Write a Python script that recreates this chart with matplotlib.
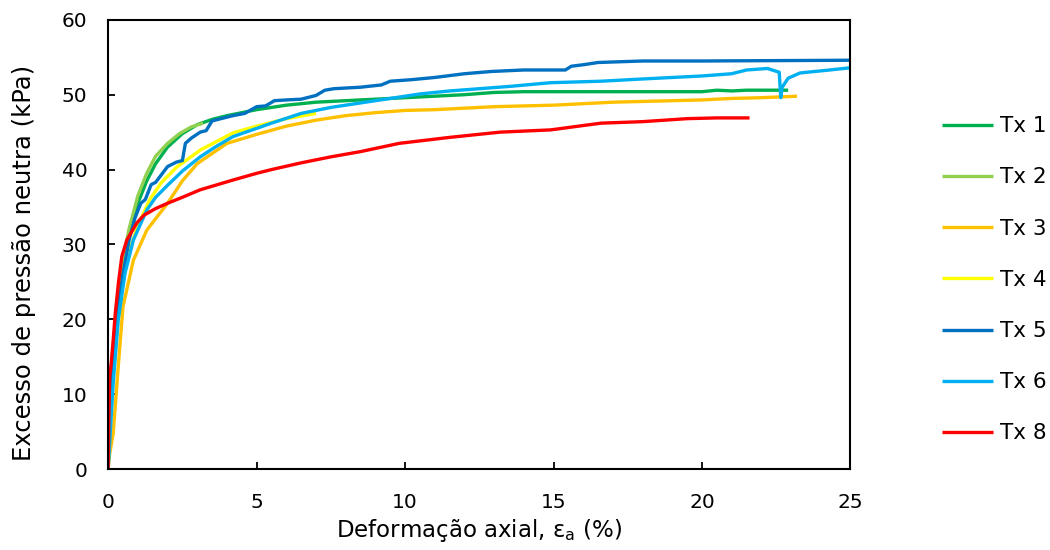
import matplotlib
matplotlib.use("Agg")
import matplotlib.pyplot as plt

# Data (strain %, excess pore pressure kPa)
tx1_x = [0, 0.05, 0.15, 0.3, 0.5, 0.7, 1.0, 1.3, 1.6, 2.0, 2.5, 3.0, 3.5, 4.0, 5.0, 6.0, 7.0, 8.0,
         9.0, 10.0, 11.0, 12.0, 13.0, 14.0, 16.0, 18.0, 20.0, 20.5, 21.0, 21.5, 22.0, 22.9]
tx1_y = [0, 8, 15, 21, 27, 31, 35.5, 38.5, 40.8, 43, 44.8, 46, 46.7, 47.2, 48, 48.6, 49.0, 49.2,
         49.4, 49.6, 49.8, 50.0, 50.3, 50.4, 50.4, 50.4, 50.4, 50.6, 50.5, 50.6, 50.6, 50.6]

tx2_x = [0, 0.05, 0.15, 0.3, 0.5, 0.7, 1.0, 1.3, 1.6, 2.0, 2.4, 2.8, 3.2]
tx2_y = [0, 9, 16, 22, 28, 32, 36.5, 39.5, 41.8, 43.5, 44.8, 45.7, 46.2]

tx3_x = [0, 0.05, 0.17, 0.34, 0.5, 0.85, 1.3, 2.0, 2.5, 3.0, 4.0, 5.0, 6.0, 7.0, 8.0, 9.0, 10, 11,
         12, 13, 14, 15, 16, 17, 18, 19, 20, 21, 22, 23.2]
tx3_y = [0, 2, 4.8, 13.7, 21.7, 27.9, 31.9, 35.5, 38.5, 40.8, 43.5, 44.7, 45.8, 46.6, 47.2, 47.6,
         47.9, 48.0, 48.2, 48.4, 48.5, 48.6, 48.8, 49.0, 49.1, 49.2, 49.3, 49.5, 49.6, 49.8]

tx4_x = [0, 0.05, 0.15, 0.3, 0.5, 0.7, 1.0, 1.4, 1.8, 2.3, 3.1, 4.2, 5.0, 6.0, 7.0]
tx4_y = [0, 6, 12, 19, 25, 29, 32.5, 36, 38.3, 40.3, 42.6, 44.9, 45.8, 46.8, 47.5]

tx5_x = [0, 0.05, 0.15, 0.3, 0.5, 0.7, 0.9, 1.1, 1.25, 1.45, 1.6, 2.0, 2.3, 2.5, 2.6, 2.8, 3.1,
         3.3, 3.5, 3.8, 4.2, 4.6, 5.0, 5.3, 5.6, 6.0, 6.5, 7.0, 7.3, 7.6, 8.5, 9.2, 9.5, 10.2, 11,
         12, 12.9, 14, 15.4, 15.6, 16, 16.5, 18, 20, 25]
tx5_y = [0, 7, 14, 20.5, 26, 30.5, 33.5, 35.5, 36, 38, 38.3, 40.4, 41.0, 41.2, 43.5, 44.2, 45,
         45.2, 46.5, 46.8, 47.2, 47.5, 48.4, 48.5, 49.2, 49.3, 49.4, 49.9, 50.6, 50.8, 51.0, 51.3,
         51.8, 52.0, 52.3, 52.8, 53.1, 53.3, 53.3, 53.8, 54.0, 54.3, 54.5, 54.5, 54.6]

tx6_x = [0, 0.07, 0.17, 0.34, 0.57, 0.85, 1.3, 1.6, 2.0, 2.5, 3.1, 3.6, 4.2, 5.0, 5.5, 6.5, 7.5,
         8.5, 9.5, 10.5, 11.5, 12.5, 13.5, 14.9, 16.6, 18, 19, 20, 21, 21.5, 22.2, 22.6, 22.65,
         22.7, 22.9, 23.3, 23.8, 24.3, 25]
tx6_y = [0, 4.8, 11.5, 19.9, 26.2, 30.6, 34.6, 36.3, 37.9, 39.8, 41.7, 43, 44.4, 45.5, 46.2, 47.5,
         48.3, 48.9, 49.5, 50.1, 50.5, 50.8, 51.1, 51.6, 51.8, 52.1, 52.3, 52.5, 52.8, 53.3, 53.5,
         53.0, 49.6, 51.0, 52.2, 52.9, 53.1, 53.3, 53.6]

tx8_x = [0, 0.02, 0.05, 0.1, 0.17, 0.24, 0.35, 0.46, 0.63, 0.97, 1.2, 1.6, 2.0, 2.5, 3.1, 4.2,
         5.0, 5.5, 6.5, 7.5, 8.5, 9.8, 11.5, 13.2, 14.9, 16.6, 18, 19.5, 20.5, 21.6]
tx8_y = [0, 6, 12.3, 14, 17.2, 20.8, 25, 28.4, 30.6, 32.9, 33.9, 34.8, 35.5, 36.3, 37.3, 38.6,
         39.5, 40.0, 40.9, 41.7, 42.4, 43.5, 44.3, 45.0, 45.3, 46.2, 46.4, 46.8, 46.9, 46.9]

labels = ["Tx 1", "Tx 2", "Tx 3", "Tx 4", "Tx 5", "Tx 6", "Tx 8"]
colors = ["#00B050", "#92D050", "#FFC000", "#FFFF00", "#0070C0", "#00B0F0", "#FF0000"]
series = [(tx1_x, tx1_y), (tx2_x, tx2_y), (tx3_x, tx3_y), (tx4_x, tx4_y),
          (tx5_x, tx5_y), (tx6_x, tx6_y), (tx8_x, tx8_y)]

fig = plt.figure(figsize=(10.5, 5.5), dpi=100)
ax = fig.add_axes([0.103, 0.147, 0.707, 0.817])

for (x, y), lab, c in zip(series, labels, colors):
    ax.plot(x, y, color=c, lw=2.4, label=lab, solid_capstyle="butt")

ax.set_xlim(0, 25)
ax.set_ylim(0, 60)
ax.set_xticks(range(0, 26, 5))
ax.set_yticks(range(0, 61, 10))
ax.tick_params(direction="in", length=5, width=1.3, labelsize=14.5)
ax.tick_params(axis="x", pad=17)
ax.tick_params(axis="y", pad=15)
for s in ax.spines.values():
    s.set_linewidth(1.5)

ax.set_xlabel("Deformação axial, ε$_\\mathregular{a}$ (%)", fontsize=16.5, labelpad=4)
ax.set_ylabel("Excesso de pressão neutra (kPa)", fontsize=17.5)
ax.yaxis.set_label_coords(-0.097, 0.46)

fig.legend(loc="upper left", bbox_to_anchor=(0.879, 0.824), frameon=False, fontsize=15.5,
           handlelength=2.37, labelspacing=1.45, handletextpad=0.33)

fig.savefig("out.png", dpi=100)
